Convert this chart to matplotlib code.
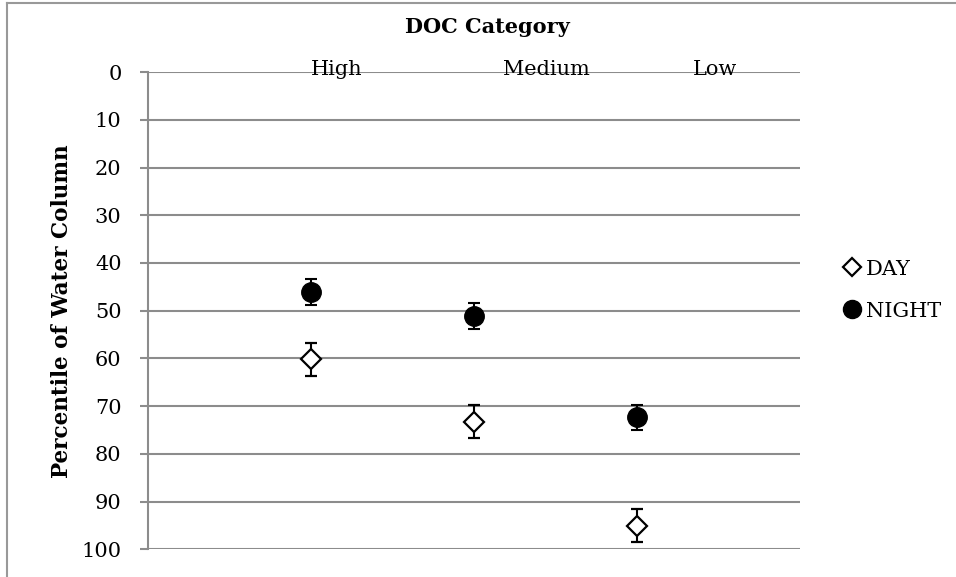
import matplotlib.pyplot as plt
from matplotlib.lines import Line2D

plt.rcParams['font.family'] = ['DejaVu Serif']

# data
categories = ['High', 'Medium', 'Low']
cat_x = [1, 2, 3]
day_mean = [60.2, 73.2, 95.0]
day_err = [3.5, 3.4, 3.5]
night_mean = [46.1, 51.1, 72.3]
night_err = [2.7, 2.7, 2.6]
label_x = [1.0, 2.18, 3.34]   # where the category text boxes start
y_ticks = list(range(0, 101, 10))

fig = plt.figure(figsize=(9.56, 5.77), dpi=100)
ax = fig.add_axes([0.1548, 0.0477, 0.6820, 0.8275])

grid_col = '#8c8c8c'

ax.errorbar(cat_x, day_mean, yerr=day_err, fmt='D', ms=10, mfc='white', mec='black',
            mew=1.6, ecolor='black', elinewidth=1.5, capsize=4.5, capthick=1.5,
            label='DAY', zorder=3)
ax.errorbar(cat_x, night_mean, yerr=night_err, fmt='o', ms=14, mfc='black', mec='black',
            ecolor='black', elinewidth=1.5, capsize=4.5, capthick=1.5,
            label='NIGHT', zorder=3)

ax.set_xlim(0, 4)
ax.set_ylim(100, 0)
ax.set_yticks(y_ticks)
ax.set_xticks([])
ax.yaxis.grid(True, color=grid_col, linewidth=1.5)
ax.set_axisbelow(True)
for s in ['top', 'right', 'bottom']:
    ax.spines[s].set_visible(False)
ax.spines['left'].set_color(grid_col)
ax.spines['left'].set_linewidth(1.5)
ax.tick_params(axis='y', length=6, width=1.5, color=grid_col, pad=13, labelsize=15)

for x, name in zip(label_x, categories):
    ax.text(x, -0.5, name, fontsize=15, ha='left', va='center', zorder=1)

ax.set_ylabel('Percentile of Water Column', fontsize=15.5, fontweight='bold', labelpad=6)
fig.text(0.51, 0.953, 'DOC Category', fontsize=15, fontweight='bold', ha='center', va='center')

handles = [
    Line2D([], [], marker='D', ls='none', ms=9, mfc='white', mec='black', mew=1.6),
    Line2D([], [], marker='o', ls='none', ms=13, mfc='black', mec='black'),
]
fig.legend(handles, ['DAY', 'NIGHT'], loc='center left', bbox_to_anchor=(0.872, 0.497),
           frameon=False, fontsize=15, handlelength=0.8, handletextpad=0.25,
           labelspacing=1.1, borderpad=0)

# chart-area border (left and top edges visible)
fig.add_artist(Line2D([7 / 956, 7 / 956], [0, 1 - 3 / 577], color='#999999', lw=1.5,
                      transform=fig.transFigure))
fig.add_artist(Line2D([7 / 956, 1], [1 - 3 / 577, 1 - 3 / 577], color='#999999', lw=1.5,
                      transform=fig.transFigure))

fig.savefig('out.png', dpi=100)
